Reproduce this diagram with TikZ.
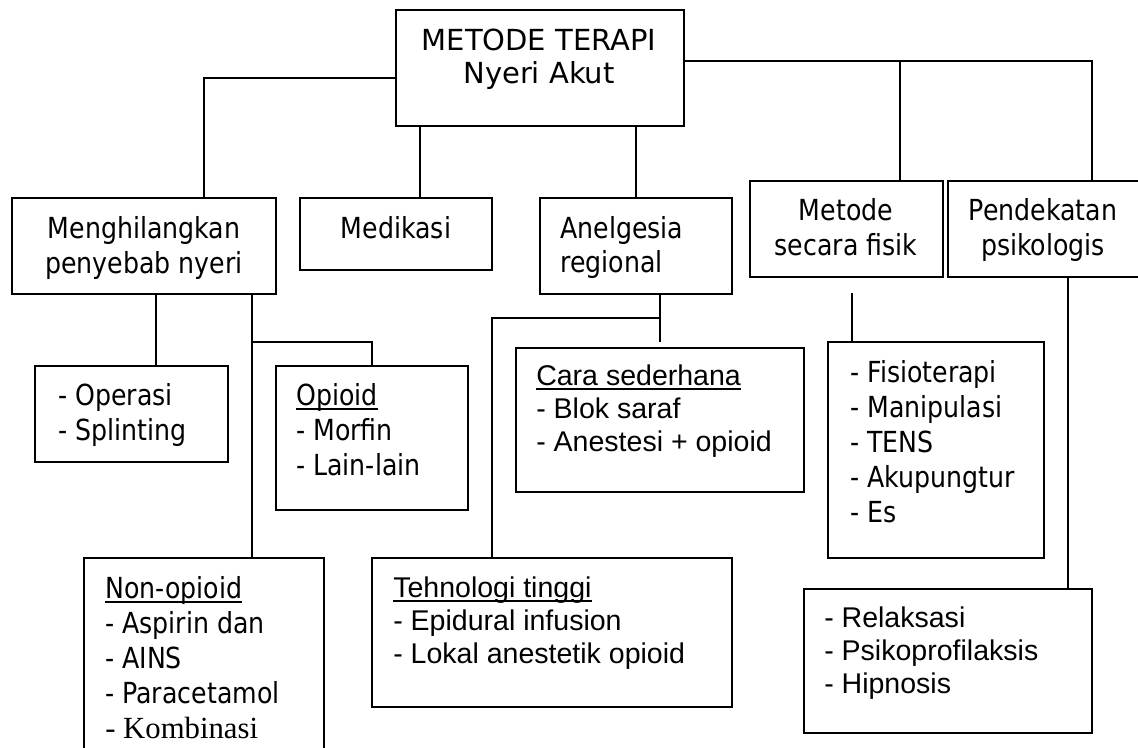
\documentclass[tikz,border=0pt]{standalone}
\usepackage{fontspec}
\setmainfont{DejaVu Sans}
% narrow humanist sans for box headings and lists
\newfontfamily\tahomalike[FakeStretch=0.87]{DejaVu Sans}
% wider sans for the root box
\newfontfamily\verdanalike{DejaVu Sans}
\newfontfamily\arialfnt{Liberation Sans}
\newfontfamily\serifitem[Scale=1.06]{Liberation Serif}
\usetikzlibrary{calc}

% underline at a fixed depth below the baseline
\newcommand\ulbar[1]{\setbox0=\hbox{#1}\rlap{\rule[-3.75pt]{\wd0}{1.5pt}}\box0}

\begin{document}
\begin{tikzpicture}[x=0.75pt, y=-0.75pt,
  box/.style={draw, line width=1.5pt, inner sep=0pt, outer sep=0pt, anchor=north west},
  wh/.style 2 args={minimum width=#1*0.75pt, minimum height=#2*0.75pt},
  % text nodes are placed by the baseline of their last line
  hd/.style={inner sep=0pt, align=center, anchor=base,
    font=\tahomalike\fontsize{21.75pt}{26pt}\selectfont},
  hdl/.style={inner sep=0pt, align=left, anchor=base west,
    font=\tahomalike\fontsize{21.75pt}{25.5pt}\selectfont},
  root/.style={inner sep=0pt, align=center, anchor=base,
    font=\verdanalike\fontsize{21.75pt}{24.75pt}\selectfont},
  lst/.style={inner sep=0pt, align=left, anchor=base west,
    font=\tahomalike\fontsize{21.75pt}{26.25pt}\selectfont},
  alst/.style={inner sep=0pt, align=left, anchor=base west,
    font=\arialfnt\fontsize{21.4pt}{24.75pt}\selectfont},
  link/.style={line width=1.5pt}]

\useasboundingbox (0,0) rectangle (1138,747);
\fill[white] (0,0) rectangle (1138,747);
\clip (0,0) rectangle (1138,747);

% ---- boxes ----
\node[box, wh={288}{116}] (top)  at (396,10)  {};
\node[box, wh={264}{96}]  (mh)   at (12,198)  {};
\node[box, wh={192}{72}]  (med)  at (300,198) {};
\node[box, wh={192}{96}]  (anel) at (540,198) {};
\node[box, wh={193}{96}]  (mf)   at (750,181) {};
\node[box, wh={194}{96}]  (pk)   at (948,181) {};
\node[box, wh={193}{96}]  (op)   at (35,366)  {};
\node[box, wh={192}{144}] (oi)   at (276,366) {};
\node[box, wh={240}{212}] (no)   at (84,558)  {};
\node[box, wh={288}{144}] (cs)   at (516,348) {};
\node[box, wh={360}{149}] (tt)   at (372,558) {};
\node[box, wh={216}{216}] (fi)   at (828,342) {};
\node[box, wh={288}{144}] (rx)   at (804,589) {};

% ---- texts ----
\node[root] (top-t)  at (539,83)  {METODE TERAPI\\Nyeri Akut};
\node[hd]   (mh-t)   at (144,273) {Menghilangkan\\penyebab nyeri};
\node[hd]   (med-t)  at (396,238) {Medikasi};
\node[hdl]  (anel-t) at (560,272) {Anelgesia\\regional};
\node[hd]   (mf-t)   at (846,255) {Metode\\secara fisik};
\node[hd]   (pk-t)   at (1043,255) {Pendekatan\\psikologis};
\node[lst]  (op-t)   at (58,440)  {- Operasi\\- Splinting};
\node[lst]  (oi-t)   at (296,475) {\ulbar{Opioid}\\- Morfin\\- Lain-lain};
\node[lst]  (no-t)   at (105,738) {\ulbar{Non-opioid}\\- Aspirin dan\\- AINS\\- Paracetamol\\{\serifitem - Kombinasi}};
\node[alst] (cs-t)   at (536,451) {\ulbar{Cara sederhana}\\- Blok saraf\\- Anestesi + opioid};
\node[alst] (tt-t)   at (393,663) {\ulbar{Tehnologi tinggi}\\- Epidural infusion\\- Lokal anestetik opioid};
\node[lst]  (fi-t)   at (850,522) {- Fisioterapi\\- Manipulasi\\- TENS\\- Akupungtur\\- Es};
\node[alst] (rx-t)   at (824,693) {- Relaksasi\\- Psikoprofilaksis\\- Hipnosis};

% ---- connectors from the root ----
\coordinate (jmh)  at (204,78);
\coordinate (jmed) at (420,0);
\coordinate (jan)  at (636,0);
\coordinate (jpk)  at (1092,61);
\coordinate (jmf)  at (900,61);
\draw[link] (top.west |- jmh) -| (mh.north -| jmh);
\draw[link] (top.south -| jmed) -- (med.north -| jmed);
\draw[link] (top.south -| jan) -- (anel.north -| jan);
\draw[link] (top.east |- jpk) -| (pk.north -| jpk);
\draw[link] (jmf) -- (mf.north -| jmf);

% ---- removing the cause ----
\coordinate (jop) at (156,0);
\coordinate (jno) at (252,342);
\coordinate (joi) at (372,342);
\draw[link] (mh.south -| jop) -- (op.north -| jop);
\draw[link] (mh.south -| jno) -- (no.north -| jno);
\draw[link] (jno) -| (oi.north -| joi);

% ---- regional analgesia ----
\coordinate (jcs) at (660,342);
\coordinate (jtt) at (492,318);
\draw[link] (anel.south -| jcs) -- (jcs);
\draw[link] (jtt -| jcs) -- (jtt) -- (tt.north -| jtt);

% ---- physical methods ----
\coordinate (jfi) at (852,293);
\draw[link] (jfi) -- (fi.north -| jfi);

% ---- psychological approach ----
\coordinate (jrx) at (1068,0);
\draw[link] (pk.south -| jrx) -- (rx.north -| jrx);

\end{tikzpicture}
\end{document}
